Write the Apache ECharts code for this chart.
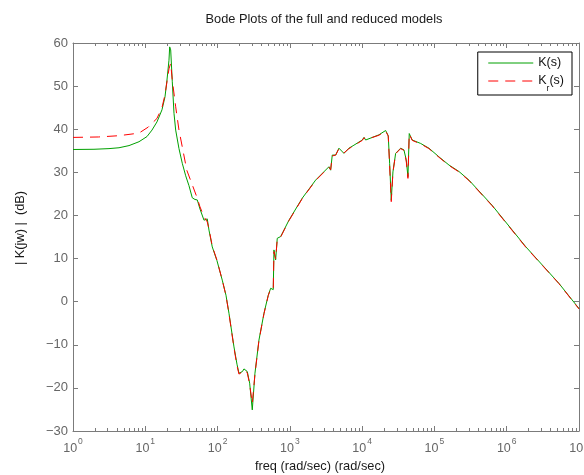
<!DOCTYPE html>
<html>
<head>
<meta charset="utf-8">
<script src="https://cdn.jsdelivr.net/npm/echarts@6/dist/echarts.min.js"></script>
<style>
  html, body { margin: 0; padding: 0; background: #fff; }
  #chart { width: 584px; height: 475px; }
</style>
</head>
<body>
<div id="chart"></div>
<script>
// Frequency response magnitude of the full controller K(s), in dB
const freqFull = [1, 1.952, 3.147, 4.327, 5.953, 8.184, 10.56, 12.38, 14.51, 17.02, 18.73, 19.96,
  21.27, 21.75, 22.46, 23.63, 24.95, 26.33, 29.25, 32.49, 36.22, 40.21, 44.68, 48.69, 52.39,
  57.09, 64.86, 72.05, 76.05, 84.47, 98.1, 116.1, 130.7, 143.8, 168.6, 185.5, 197.7, 208.7,
  221.0, 231.8, 257.6, 278.0, 302.0, 329.1, 373.8, 438.4, 502.5, 542.5, 570.9, 589.3, 602.6,
  636.1, 669.4, 746.2, 971.8, 1484, 2274, 3474, 3667, 3859, 4300, 4777, 5602, 6569, 7701,
  10030, 10590, 11180, 11770, 17080, 21130, 22960, 24010, 25270, 26670, 29060, 34080, 37860,
  40740, 43010, 44830, 49320, 64440, 83930, 115400, 158700, 218300, 300100, 624300, 1843000,
  5272000, 10000000];
const magFull = [35.3, 35.35, 35.5, 35.7, 36.2, 37.1, 38.3, 39.8, 41.7, 44.5, 47.5, 51.4,
  56.0, 59.1, 58.4, 51.0, 43.7, 39.8, 35.5, 32.1, 29.2, 26.9, 24.1, 23.7, 23.6,
  21.5, 18.9, 19.2, 16.6, 12.7, 9.5, 5.0, 1.5, -2.7, -10.5, -14.5, -16.6, -17.0,
  -16.2, -15.6, -16.2, -18.9, -25.1, -16.6, -8.9, -2.7, 1.5, 3.1, 2.7, 2.8, 12.0,
  9.7, 14.7, 15.1, 18.9, 24.0, 28.2, 31.3, 30.5, 34.0, 34.0, 35.6, 34.4, 35.6, 36.3,
  37.5, 38.1, 37.5, 37.8, 38.7, 39.7, 38.5, 32.1, 23.6, 30.1, 34.4, 35.6, 35.2,
  32.9, 29.0, 39.0, 37.5, 36.7, 35.6, 33.6, 31.7, 30.2, 28.2, 22.4, 12.7,
  4.25, -1.6];

// Frequency response magnitude of the reduced controller Kr(s), in dB
const freqRed = [1, 2.24, 4.327, 8.184, 11.0, 14.5, 17.02, 18.73, 19.96, 21.27, 22.46, 23.63,
  26.33, 29.25, 32.49, 37.5, 44.68, 52.39, 57.09, 64.86, 72.05, 76.05, 84.47, 98.1, 116.1,
  130.7, 143.8, 168.6, 185.5, 197.7, 208.7, 221.0, 231.8, 257.6, 278.0, 302.0, 329.1, 373.8,
  438.4, 502.5, 542.5, 570.9, 589.3, 602.6, 636.1, 669.4, 746.2, 971.8, 1484, 2274, 3474,
  3667, 3859, 4300, 4777, 5602, 6569, 7701, 10030, 10590, 11180, 11770, 17080, 21130, 22960,
  24010, 25270, 26670, 29060, 34080, 37860, 40740, 43010, 44830, 49320, 64440, 83930, 115400,
  158700, 218300, 300100, 624300, 1843000, 5272000, 10000000];
const magRed = [38.1, 38.2, 38.5, 39.1, 40.5, 42.5, 45.0, 48.0, 51.0, 54.0, 55.3, 51.4,
  45.2, 39.8, 35.9, 30.5, 27.1, 24.0, 22.0, 19.7, 18.5, 16.8, 12.9, 9.6, 5.0,
  1.4, -2.8, -10.7, -14.8, -16.8, -17.2, -16.3, -15.8, -16.5, -19.2, -23.6, -16.8, -9.0,
  -2.8, 1.4, 3.0, 2.6, 2.9, 11.6, 9.9, 14.5, 15.0, 18.8, 23.9, 28.1, 31.2,
  30.6, 33.8, 34.0, 35.5, 34.5, 35.5, 36.2, 37.4, 38.0, 37.6, 37.7, 38.6, 39.6, 38.4,
  31.5, 23.2, 30.0, 34.3, 35.5, 35.1, 32.6, 28.6, 38.9, 37.4, 36.6, 35.5, 33.5,
  31.6, 30.1, 28.1, 22.3, 12.6, 4.2, -1.7];

const xTickExponents = [0, 1, 2, 3, 4, 5, 6, 7];
const yTicks = [-30, -20, -10, 0, 10, 20, 30, 40, 50, 60];

const titleText = 'Bode Plots of the full and reduced models';
const xLabel = 'freq (rad/sec) (rad/sec)';
const yLabel = '| K(jw) |  (dB)';

const axisGray = '#7b7b7b';
const labelGray = '#666666';
const fontFam = '"Liberation Sans", Arial, sans-serif';

const chart = echarts.init(document.getElementById('chart'), null, { renderer: 'canvas' });

const pairs = (xs, ys) => xs.map((x, i) => [x, ys[i]]);

const baseX = {
  type: 'log', logBase: 10,
  min: Math.pow(10, xTickExponents[0]),
  max: Math.pow(10, xTickExponents[xTickExponents.length - 1]),
  splitLine: { show: false },
  axisLine: { show: true, onZero: false, lineStyle: { color: axisGray, width: 1 } },
  axisTick: { show: true, inside: true, length: 5, lineStyle: { color: axisGray } }
};
const baseY = {
  type: 'value',
  min: yTicks[0], max: yTicks[yTicks.length - 1], interval: 10,
  splitLine: { show: false },
  axisLine: { show: true, onZero: false, lineStyle: { color: axisGray, width: 1 } },
  axisTick: { show: true, inside: true, length: 5, lineStyle: { color: axisGray } }
};

chart.setOption({
  animation: false,
  backgroundColor: '#ffffff',
  textStyle: { fontFamily: fontFam },
  title: {
    text: titleText,
    left: 319, top: 8, textAlign: 'center',
    textStyle: { fontSize: 12.8, fontWeight: 'normal', color: '#1a1a1a', fontFamily: fontFam }
  },
  grid: { left: 73, right: 5, top: 43, bottom: 44, containLabel: false, outerBoundsMode: 'none' },
  xAxis: [
    Object.assign({}, baseX, {
      position: 'bottom',
      name: xLabel, nameLocation: 'middle', nameGap: 28,
      nameTextStyle: { fontSize: 12.8, color: '#1a1a1a', fontFamily: fontFam, padding: [0, 12, 0, 0] },
      axisLabel: {
        show: true, margin: 6, color: labelGray,
        formatter: v => '{b|10}{s|' + Math.round(Math.log10(v)) + '}',
        rich: {
          b: { fontSize: 12.5, color: labelGray, fontFamily: fontFam, lineHeight: 18, verticalAlign: 'bottom' },
          s: { fontSize: 8.5, color: labelGray, fontFamily: fontFam, lineHeight: 18, verticalAlign: 'top', padding: [0, 0, 0, 1] }
        }
      }
    }),
    Object.assign({}, baseX, { position: 'top', axisLabel: { show: false } })
  ],
  yAxis: [
    Object.assign({}, baseY, {
      position: 'left',
      name: yLabel, nameLocation: 'middle', nameGap: 46,
      nameTextStyle: { fontSize: 12.8, color: '#1a1a1a', fontFamily: fontFam, padding: [0, 0, 0, 18] },
      axisLabel: {
        show: true, margin: 5, fontSize: 13, color: labelGray, fontFamily: fontFam,
        formatter: v => String(v).replace('-', '\u2212')
      }
    }),
    Object.assign({}, baseY, { position: 'right', axisLabel: { show: false } })
  ],
  legend: {
    orient: 'vertical',
    right: 12, top: 52,
    backgroundColor: '#ffffff',
    borderColor: '#000000', borderWidth: 1, borderRadius: 0,
    padding: [4, 8, 2, 10],
    itemWidth: 45, itemHeight: 12, itemGap: 5,
    itemStyle: { opacity: 0 },
    lineStyle: { width: 1 },
    formatter: name => name === 'Kr' ? '{t|K}{sub|r}{t|(s)}' : '{t|K(s)}',
    textStyle: {
      fontSize: 12.5, color: '#111', fontFamily: fontFam,
      rich: {
        t: { fontSize: 12.5, color: '#111', fontFamily: fontFam, lineHeight: 14, verticalAlign: 'top' },
        sub: { fontSize: 8.5, color: '#111', fontFamily: fontFam, lineHeight: 14, verticalAlign: 'bottom', padding: [0, 0, -5, 0] }
      }
    },
    data: ['K', 'Kr']
  },
  series: [
    {
      name: 'K', type: 'line', xAxisIndex: 0, yAxisIndex: 0,
      data: pairs(freqFull, magFull),
      showSymbol: false, symbol: 'none',
      lineStyle: { color: '#00a000', width: 1 },
      itemStyle: { color: '#00a000' },
      z: 2
    },
    {
      name: 'Kr', type: 'line', xAxisIndex: 0, yAxisIndex: 0,
      data: pairs(freqRed, magRed),
      showSymbol: false, symbol: 'none',
      lineStyle: { color: '#ff0000', width: 1, type: [10, 7] },
      itemStyle: { color: '#ff0000' },
      z: 3
    }
  ]
});

// Logarithmic minor ticks on bottom and top edges, placed through the axis scale
function drawMinorTicks() {
  const elems = [];
  const yBottom = chart.convertToPixel({ yAxisIndex: 0 }, yTicks[0]);
  const yTop = chart.convertToPixel({ yAxisIndex: 0 }, yTicks[yTicks.length - 1]);
  for (let e = xTickExponents[0]; e < xTickExponents[xTickExponents.length - 1]; e++) {
    for (let k = 2; k <= 9; k++) {
      const px = Math.round(chart.convertToPixel({ xAxisIndex: 0 }, k * Math.pow(10, e))) + 0.5;
      elems.push({ type: 'line', silent: true, shape: { x1: px, y1: yBottom, x2: px, y2: yBottom - 3 }, style: { stroke: axisGray, lineWidth: 1 } });
      elems.push({ type: 'line', silent: true, shape: { x1: px, y1: yTop, x2: px, y2: yTop + 3 }, style: { stroke: axisGray, lineWidth: 1 } });
    }
  }
  chart.setOption({ graphic: elems });
}
drawMinorTicks();
</script>
</body>
</html>
